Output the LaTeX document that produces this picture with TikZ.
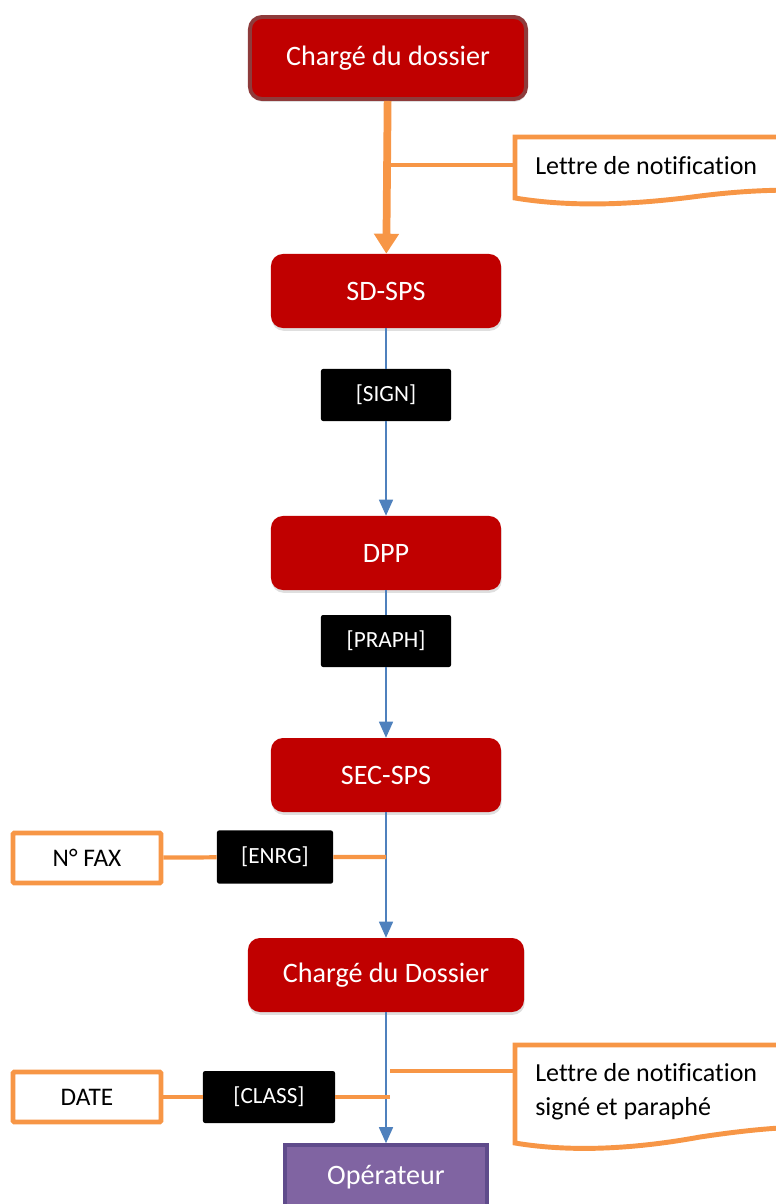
\documentclass[tikz,border=0pt]{standalone}
\usepackage{fontspec}
\setmainfont[Ligatures=NoCommon]{Carlito}
\usetikzlibrary{arrows.meta,shadows}
\definecolor{boxred}{HTML}{C00000}
\definecolor{boxrim}{HTML}{8E3B3B}
\definecolor{noteorange}{HTML}{F79646}
\definecolor{flowblue}{HTML}{4F81BD}
\definecolor{operpurple}{HTML}{8064A2}
\definecolor{operrim}{HTML}{5F4B8B}
\tikzset{
  redbox/.style={fill=boxred, text=white, rounded corners=0.3cm,
    minimum width=5.75cm, minimum height=1.85cm,
    drop shadow={opacity=0.25, shadow xshift=0.5pt, shadow yshift=-2pt},
    font=\fontsize{20}{24}\selectfont},
  tagbox/.style={fill=black, text=white, rounded corners=1.5pt,
    minimum height=1.3cm, font=\fontsize{16.5}{19}\selectfont},
  fieldbox/.style={draw=noteorange, line width=3.5pt, fill=white, rounded corners=1pt,
    minimum width=3.7cm, minimum height=1.25cm, font=\fontsize{18}{22}\selectfont},
  notetext/.style={anchor=north west, align=left, inner sep=0pt,
    font=\fontsize{18.5}{24}\selectfont},
  noteline/.style={draw=noteorange, line width=3pt},
  flowline/.style={draw=flowblue, line width=1pt, -{Triangle[width=0.35cm,length=0.4cm]}}
}
\begin{document}
\begin{tikzpicture}[x=0.025cm, y=-0.025cm]
\useasboundingbox (0,0) rectangle (776,1204);
\clip (0,0) rectangle (776,1204);
% main chain
\node[redbox, draw=boxrim, line width=2.8pt, minimum width=6.9cm, minimum height=2.05cm] (dossier) at (388,58) {Chargé du dossier};
\node[redbox] (sdsps) at (386,291) {SD-SPS};
\node[redbox] (dpp) at (386,553) {DPP};
\node[redbox] (secsps) at (386,775) {SEC-SPS};
\node[redbox, minimum width=6.9cm] (dossier2) at (386,975) {Chargé du Dossier};
\node[fill=operpurple, draw=operrim, line width=2.5pt, text=white, minimum width=5.05cm, minimum height=1.6cm,
  font=\fontsize{20}{24}\selectfont] (oper) at (386,1177) {Opérateur};
% tags on the arrows
\node[tagbox, minimum width=3.25cm] (sign) at (386,395) {[SIGN]};
\node[tagbox, minimum width=3.25cm] (praph) at (386,641) {[PRAPH]};
\node[tagbox, minimum width=2.9cm, minimum height=1.33cm] (enrg) at (275,857) {[ENRG]};
\node[tagbox, minimum width=3.3cm] (class) at (269,1097) {[CLASS]};
% side fields
\node[fieldbox] (fax) at (87,858) {N° FAX};
\node[fieldbox] (date) at (87,1097) {DATE};
% documents
\draw[noteline, line width=3.5pt, fill=white] (800,137) -- (515,137) -- (515,198)
  .. controls (575,208) and (640,204) .. (700,196) .. controls (740,191) and (770,190) .. (800,190);
\node[notetext] (lettre) at (535,156) {Lettre de notification};
\draw[noteline, line width=3.5pt, fill=white] (800,1045) -- (515,1045) -- (515,1143)
  .. controls (575,1153) and (640,1148) .. (700,1137) .. controls (740,1131) and (770,1128) .. (800,1127);
\node[notetext] (lettre2) at (535,1063) {Lettre de notification\\signé et paraphé};
% junctions on the arrows
\coordinate (j1) at (386,165);
\coordinate (d1) at (515,165);
\coordinate (j2) at (386,857);
\coordinate (j3) at (390,1071);
\coordinate (d2) at (515,1071);
\coordinate (j4) at (390,1097);
% arrows
\draw[draw=noteorange, line width=5.5pt, -{Triangle[width=0.6cm,length=0.5cm]}] (dossier) -- (sdsps);
\draw[noteline] (j1) -- (d1);
\draw[flowline] (sdsps) -- (sign) -- (dpp);
\draw[flowline] (dpp) -- (praph) -- (secsps);
\draw[flowline] (secsps) -- (dossier2);
\draw[flowline] (dossier2) -- (oper);
\draw[noteline] (fax) -- (enrg) -- (j2);
\draw[noteline] (date) -- (class) -- (j4);
\draw[noteline] (j3) -- (d2);
\end{tikzpicture}
\end{document}
